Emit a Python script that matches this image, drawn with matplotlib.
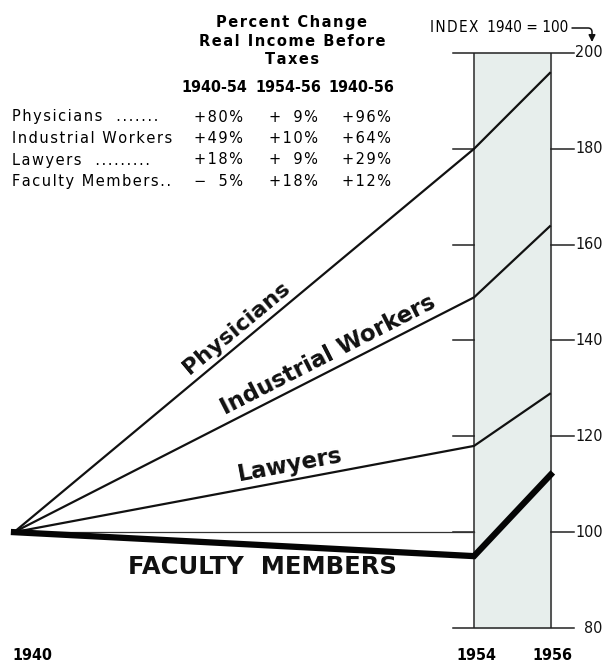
import numpy as np
import matplotlib.pyplot as plt

# index values, 1940 = 100
years = ["1940", "1954", "1956"]
year_pos = [0, 6, 7]          # compressed time axis: 1954-56 gets its own band
physicians = [100, 180, 196]
industrial = [100, 149, 164]
lawyers = [100, 118, 129]
faculty = [100, 95, 112]
row_names = ["Physicians  .......", "Industrial Workers", "Lawyers  .........", "Faculty Members.."]
line_names = ["Physicians", "Industrial Workers", "Lawyers", "FACULTY  MEMBERS"]
index_ticks = [80, 100, 120, 140, 160, 180, 200]

W, H = 606, 665
plt.rcParams["font.family"] = "DejaVu Sans"
# condensed face for the numerals
narrow = dict(family="DejaVu Sans", fontstretch="condensed")

fig = plt.figure(figsize=(W / 100, H / 100), dpi=100)
ax = fig.add_axes([0, 0, 1, 1])
xs = 76.67   # px per x unit
ys = 4.792   # px per index point
ax.set_xlim(-14 / xs, (W - 14) / xs)
ax.set_ylim(80 - 37 / ys, 200 + 53 / ys)
ax.axis("off")


def fpx(x, y):
    return x / W, 1 - y / H


def spaced(s):
    # open up the letter spacing a little with hair spaces
    return "\u200a".join(s)


# shaded 1954-56 band
ax.fill_between([year_pos[1], year_pos[2]], 80, 200, color="#e7eeec", zorder=0)
ax.vlines([year_pos[1], year_pos[2]], 80, 200, color="#2a2a2a", lw=1.1, zorder=1)

# index scale ticks on both sides of the band
for v in index_ticks:
    if v in (80, 200):
        ax.plot([year_pos[1] - 0.27, year_pos[2] + 0.31], [v, v], color="#222", lw=1.1)
    else:
        ax.plot([year_pos[1] - 0.27, year_pos[1]], [v, v], color="#222", lw=1.1)
        ax.plot([year_pos[2], year_pos[2] + 0.30], [v, v], color="#222", lw=1.1)
    ax.text(year_pos[2] + 0.68, v, str(v), ha="right", va="center",
            fontsize=11.5, color="#111", **narrow)

# 1940 base line
ax.plot([year_pos[0], year_pos[1]], [100, 100], color="#333", lw=0.9)

series = [physicians, industrial, lawyers, faculty]
for vals in series[:3]:
    ax.plot(year_pos, vals, color="#111", lw=1.6, solid_capstyle="butt")
ax.plot(year_pos, faculty, color="#050505", lw=4.5, solid_joinstyle="miter")


def seg_angle(vals):
    p0 = ax.transData.transform((year_pos[0], vals[0]))
    p1 = ax.transData.transform((year_pos[1], vals[1]))
    return np.degrees(np.arctan2(p1[1] - p0[1], p1[0] - p0[0]))


label_px = [(236, 328), (328, 355), (290, 465), (262, 567)]
label_size = [16, 16.5, 16.5, 17.5]
for name, vals, (px, py), size in zip(line_names, series, label_px, label_size):
    ang = 0 if vals is faculty else seg_angle(vals)
    ax.text((px - 14) / xs, 200 - (py - 53) / ys, name, rotation=ang,
            rotation_mode="anchor", ha="center", va="center",
            fontsize=size, fontweight="bold", color="#111")

# year labels
for i, yr in enumerate(years):
    xpx = [12, 476, 552][i]
    fig.text(*fpx(xpx, 656), yr, ha="left" if i == 0 else "center", va="center",
             fontsize=11.5, fontweight="bold", **narrow)

# index note with bent arrow
fig.text(*fpx(430, 28), spaced("INDEX") + "  1940 = 100", ha="left", va="center",
         fontsize=11, **narrow)
ax.annotate("", xy=fpx(592, 42), xycoords="figure fraction",
            xytext=fpx(572, 28), textcoords="figure fraction",
            arrowprops=dict(arrowstyle="-|>", color="#111", lw=1.1,
                            connectionstyle="angle,angleA=0,angleB=90,rad=4",
                            shrinkA=0, shrinkB=0))

# percent change table
for txt, y in [("Percent Change", 22), ("Real Income Before", 42), ("Taxes", 59)]:
    fig.text(*fpx(292, y), spaced(txt), ha="center", va="center", fontsize=10.5, fontweight="bold")
for txt, x in [("1940-54", 214), ("1954-56", 288), ("1940-56", 361)]:
    fig.text(*fpx(x, 88), txt, ha="center", va="center", fontsize=11.5,
             fontweight="bold", **narrow)


def pct(a, b):
    c = int(round((b / a - 1) * 100))
    sign = "+" if c >= 0 else "\u2212"
    if abs(c) < 10:
        return f"{sign}\u2007{abs(c)}%"
    return f"{sign}{abs(c)}%"


for k, (name, vals) in enumerate(zip(row_names, series)):
    y = 117 + k * 21.5
    fig.text(*fpx(12, y), spaced(name), ha="left", va="center", fontsize=10.5)
    cells = [pct(vals[0], vals[1]), pct(vals[1], vals[2]), pct(vals[0], vals[2])]
    for txt, x in zip(cells, [243, 318, 391]):
        fig.text(*fpx(x, y), spaced(txt), ha="right", va="center", fontsize=10.5)

fig.savefig("out.png", dpi=100)
